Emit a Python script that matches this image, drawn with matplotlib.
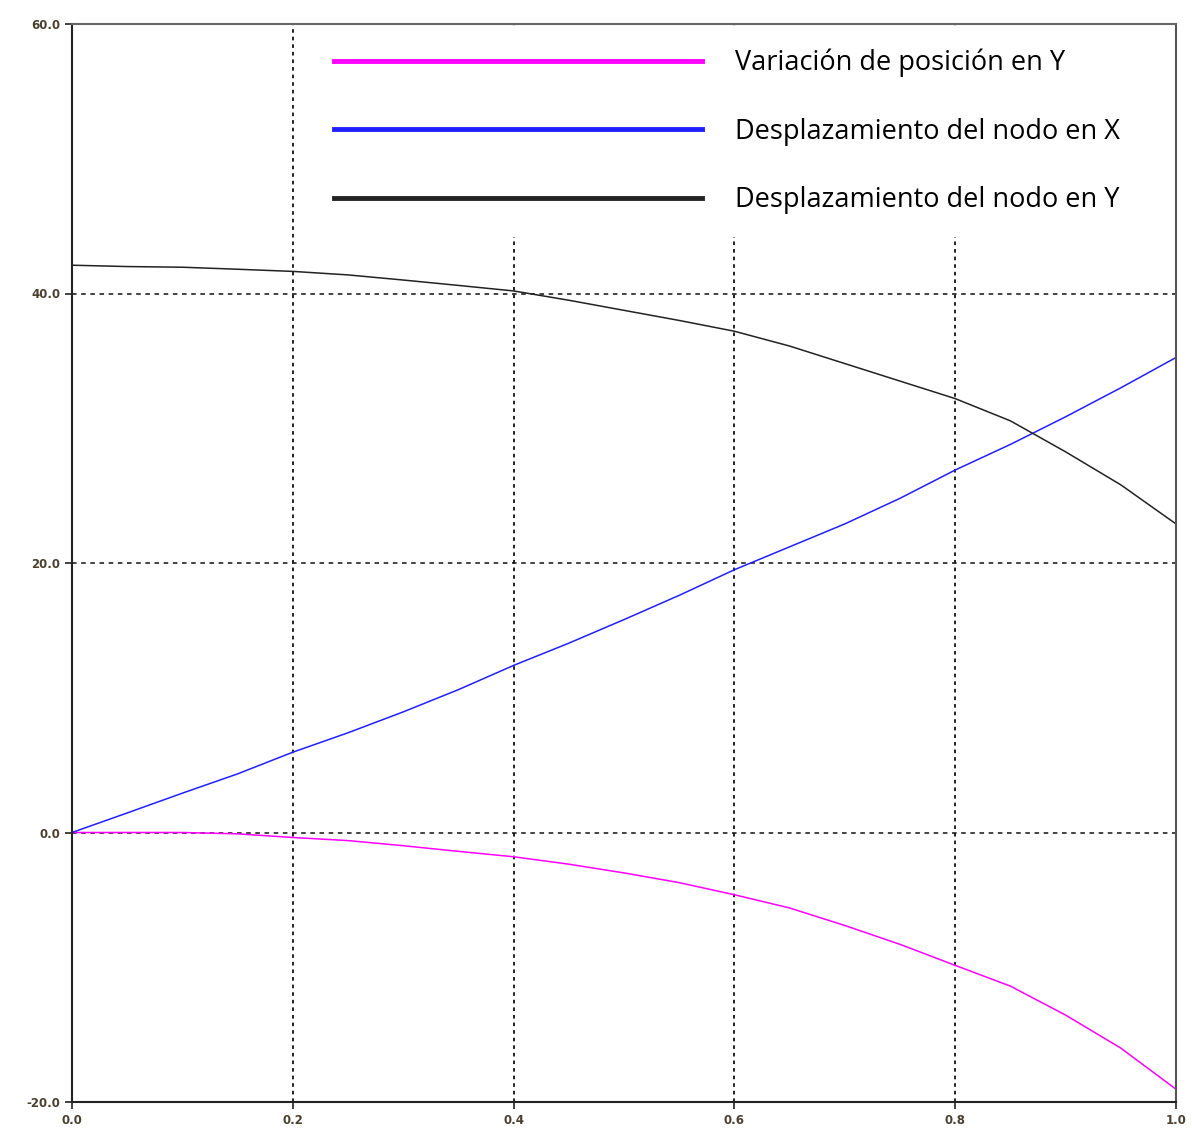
import numpy as np
import matplotlib
matplotlib.use("Agg")
import matplotlib.pyplot as plt

# valores (paso de 0.05 en el eje x)
x_vals = [0.00, 0.05, 0.10, 0.15, 0.20, 0.25, 0.30, 0.35, 0.40, 0.45, 0.50,
          0.55, 0.60, 0.65, 0.70, 0.75, 0.80, 0.85, 0.90, 0.95, 1.00]

var_pos_y = [0.0, 0.0, 0.0, -0.1, -0.37, -0.6, -0.98, -1.4, -1.8, -2.35, -3.0,
             -3.72, -4.62, -5.6, -6.9, -8.3, -9.86, -11.4, -13.55, -16.0, -19.05]

despl_x = [0.0, 1.45, 2.92, 4.35, 5.96, 7.4, 8.95, 10.6, 12.4, 14.05, 15.8,
           17.6, 19.5, 21.2, 22.9, 24.8, 26.9, 28.8, 30.85, 33.0, 35.25]

despl_y = [42.1, 42.0, 41.95, 41.8, 41.64, 41.38, 41.0, 40.6, 40.19, 39.5, 38.75,
           38.0, 37.2, 36.1, 34.8, 33.5, 32.2, 30.55, 28.25, 25.8, 22.9]

etiquetas = ['Variación de posición en Y',
             'Desplazamiento del nodo en X',
             'Desplazamiento del nodo en Y']

x_ticks = [0.0, 0.2, 0.4, 0.6, 0.8, 1.0]
y_ticks = [-20, 0, 20, 40, 60]


def main():
    fig = plt.figure(figsize=(11.92, 11.36), dpi=100)
    ax = fig.add_axes([72 / 1192, 34 / 1136, 1104 / 1192, 1078 / 1136])

    ax.plot(x_vals, var_pos_y, color='#ff00ff', lw=1.1, label=etiquetas[0])
    ax.plot(x_vals, despl_x, color='#2020ff', lw=1.1, label=etiquetas[1])
    ax.plot(x_vals, despl_y, color='#222222', lw=1.1, label=etiquetas[2])

    ax.set_xlim(0, 1)
    ax.set_ylim(-20, 60)
    ax.set_xticks(x_ticks)
    ax.set_yticks(y_ticks)
    ax.set_xticklabels([f'{v:.1f}' for v in x_ticks])
    ax.set_yticklabels([f'{v:.1f}' for v in y_ticks])
    ax.tick_params(direction='out', length=5, width=1.2, color='#222222',
                   labelsize=8.5, labelcolor='#4a4030')
    for lbl in ax.get_xticklabels() + ax.get_yticklabels():
        lbl.set_fontweight('bold')

    # rejilla: horizontales discontinuas, verticales punteadas
    ax.yaxis.grid(True, linestyle=(0, (3, 3)), color='#111111', lw=1.1)
    ax.xaxis.grid(True, linestyle=(0, (2, 2.2)), color='#111111', lw=1.3)

    ax.spines['left'].set_color('#222222')
    ax.spines['bottom'].set_color('#222222')
    ax.spines['top'].set_color('#666666')
    ax.spines['right'].set_color('#555555')
    for s in ax.spines.values():
        s.set_linewidth(1.5)

    leg = ax.legend(loc='upper left', bbox_to_anchor=(0.2163, 0.9986),
                    borderaxespad=0,
                    frameon=True, fancybox=False, edgecolor='none',
                    facecolor='white', framealpha=1.0,
                    prop={'family': 'Open Sans', 'size': 19.5},
                    handlelength=13.6, handletextpad=1.2,
                    labelspacing=1.5, borderpad=0.85)
    leg.set_zorder(5)
    for h in leg.legend_handles:
        h.set_linewidth(3.5)

    fig.savefig('out.png', dpi=100)


if __name__ == "__main__":
    main()
